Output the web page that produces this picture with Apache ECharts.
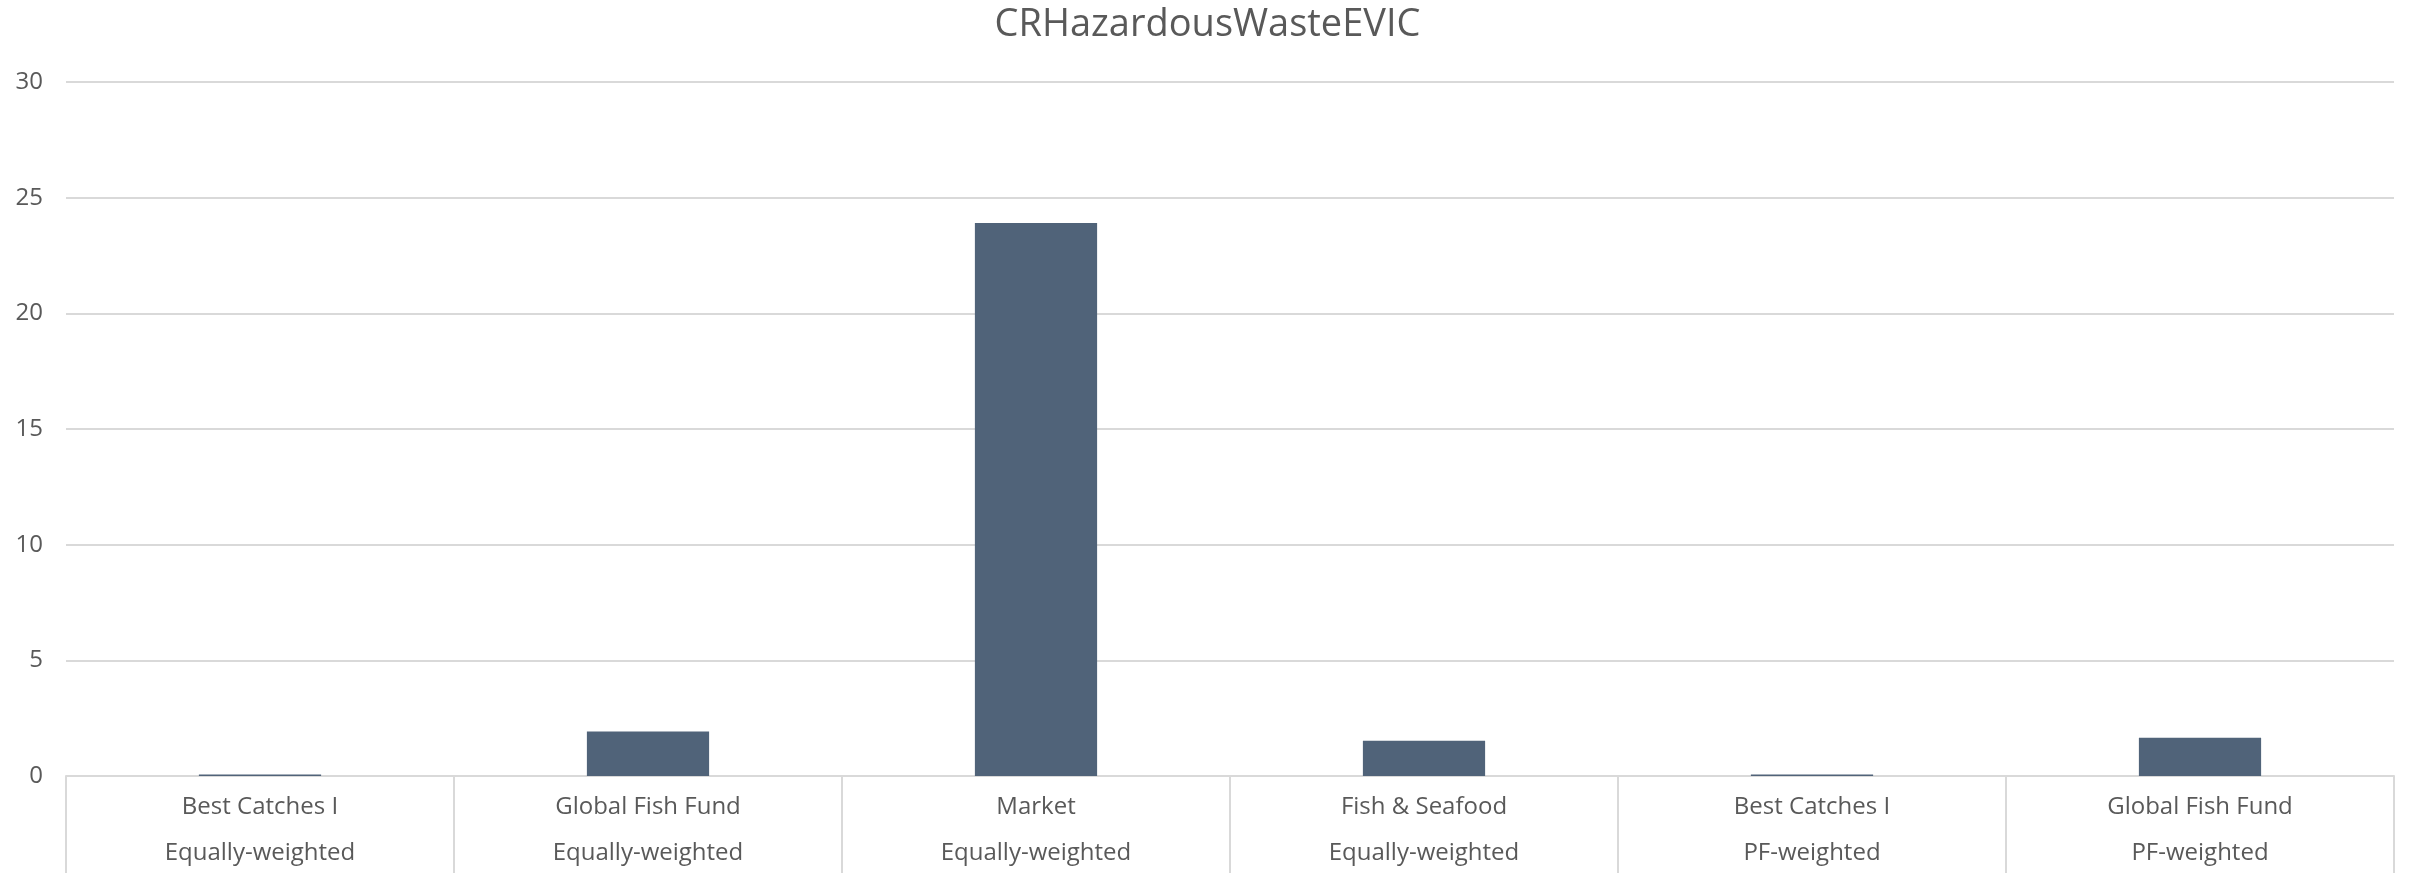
<!DOCTYPE html>
<html>
<head>
<meta charset="utf-8">
<script src="https://cdn.jsdelivr.net/npm/echarts@6/dist/echarts.min.js"></script>
<style>
  html, body { margin: 0; padding: 0; background: #fff; }
  #chart { width: 2415px; height: 876px; }
</style>
</head>
<body>
<div id="chart"></div>
<script>
  // category labels (two levels, joined by newline)
  const fundNames = ['Best Catches I', 'Global Fish Fund', 'Market', 'Fish & Seafood', 'Best Catches I', 'Global Fish Fund']
  const weightings = ['Equally-weighted', 'Equally-weighted', 'Equally-weighted', 'Equally-weighted', 'PF-weighted', 'PF-weighted']
  const values = [0.06, 1.92, 23.9, 1.52, 0.06, 1.65]
  const yTicks = [0, 5, 10, 15, 20, 25, 30]

  const categories = fundNames.map((n, i) => n + '\n' + weightings[i])
  const textColor = '#595959'
  const lineColor = '#d9d9d9'
  const font = '"Open Sans", Lato, sans-serif'

  const chart = echarts.init(document.getElementById('chart'))
  chart.setOption({
    backgroundColor: '#fff',
    animation: false,
    title: {
      text: 'CRHazardousWasteEVIC',
      left: 'center',
      top: 1,
      textStyle: { color: textColor, fontSize: 38, fontWeight: 'normal', fontFamily: font }
    },
    grid: { left: 66, right: 21, top: 82, bottom: 97 },
    xAxis: {
      type: 'category',
      data: categories,
      axisLine: { show: true, lineStyle: { color: lineColor, width: 2 } },
      axisTick: { show: true, length: 97, alignWithLabel: false, lineStyle: { color: lineColor, width: 2 } },
      axisLabel: {
        color: textColor,
        fontSize: 24,
        fontFamily: font,
        lineHeight: 46,
        margin: 8,
        interval: 0
      }
    },
    yAxis: {
      type: 'value',
      min: yTicks[0],
      max: yTicks[yTicks.length - 1],
      interval: 5,
      axisLine: { show: false },
      axisTick: { show: false },
      axisLabel: { color: textColor, fontSize: 24, fontFamily: font, margin: 23 },
      splitLine: { lineStyle: { color: lineColor, width: 2 } }
    },
    series: [
      {
        type: 'bar',
        data: values,
        barWidth: '31.5%',
        itemStyle: { color: '#506379' }
      }
    ]
  })
</script>
</body>
</html>
